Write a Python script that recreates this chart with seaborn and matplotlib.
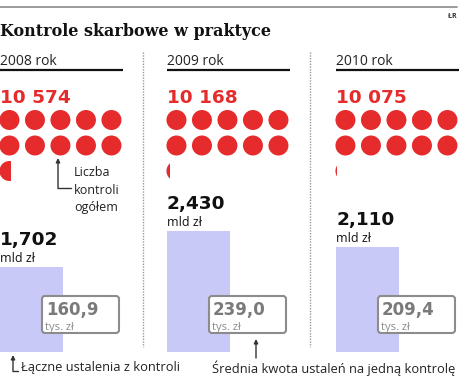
import matplotlib
matplotlib.use("Agg")
import matplotlib.pyplot as plt
import seaborn as sns
import pandas as pd
import numpy as np
from matplotlib.patches import Circle, Rectangle, FancyBboxPatch

# ---- data ----
years = ["2008 rok", "2009 rok", "2010 rok"]
controls = [10574, 10168, 10075]      # liczba kontroli ogółem
total_mld = [1.702, 2.430, 2.110]     # łączne ustalenia z kontroli, mld zł
avg_tys = [160.9, 239.0, 209.4]       # średnia kwota ustaleń na jedną kontrolę, tys. zł
title = "Kontrole skarbowe w praktyce"
unit_total = "mld zł"
unit_avg = "tys. zł"
label_count = ["Liczba", "kontroli", "ogółem"]
label_total = "Łączne ustalenia z kontroli"
label_avg = "Średnia kwota ustaleń na jedną kontrolę"
source = "ŁR"
per_dot = 1000

RED = "#e52b2b"
LAV = "#c9c9f8"
GRAY = "#808080"

W, H = 468, 388
sns.set_style("white")
plt.rcParams["font.family"] = ["Open Sans", "DejaVu Sans"]
NUM = ["DejaVu Sans"]
SERIF = ["DejaVu Serif"]

fig = plt.figure(figsize=(W / 100, H / 100), dpi=100)
bg = fig.add_axes([0, 0, 1, 1])
bg.set_xlim(0, W); bg.set_ylim(H, 0); bg.axis("off")


def rect(x, ytop, w, h):
    return [x / W, 1 - (ytop + h) / H, w / W, h / H]


def fmt_int(v):
    return f"{v:,}".replace(",", " ")


def fmt_dec(v, d):
    return f"{v:.{d}f}".replace(".", ",")


# header
bg.plot([0, 457], [7, 7], color="#8a8a8a", lw=1.2)
bg.text(457, 16, source, ha="right", va="center", fontsize=5, color="#333333", fontweight="bold")
bg.text(0, 36, title, family=SERIF, fontweight="bold", fontsize=11.5, va="baseline", ha="left",
        color="#111111")

panel_x = [0, 167, 336]
panel_w = 123
for sx in [142.5, 310]:
    bg.plot([sx, sx], [52, 347], color="#9a9a9a", lw=1, ls=(0, (1, 1)))

PX_PER_MLD = 50
BASE = 352
YMAX = 2.8

for i, x0 in enumerate(panel_x):
    bg.text(x0, 65, years[i], fontsize=10, va="baseline", color="#222222")
    bg.plot([x0, x0 + panel_w], [70, 70], color="#111111", lw=1.6, solid_capstyle="butt")
    bg.text(x0, 103, fmt_int(controls[i]), family=NUM, fontweight="bold", fontsize=13.3,
            color=RED, va="baseline")

    # dots: one dot = 1000 controls
    dax = fig.add_axes(rect(x0 - 3.3, 107.25, 127.5, 76.5))
    n_full = controls[i] // per_dot
    frac = controls[i] / per_dot - n_full
    idx = np.arange(n_full)
    dots = pd.DataFrame({"col": idx % 5, "row": idx // 5})
    sns.scatterplot(data=dots, x="col", y="row", s=(20 * 0.72) ** 2, color=RED,
                    edgecolor="none", linewidth=0, ax=dax, legend=False, clip_on=False)
    dax.set_xlim(-0.5, 4.5); dax.set_ylim(2.5, -0.5); dax.axis("off")
    r = 10 / 25.5
    pc, pr = n_full % 5, n_full // 5
    circ = Circle((pc, pr), r, color=RED, lw=0)
    dax.add_patch(circ)
    clip = Rectangle((pc - r, pr - r), 2 * r * frac, 2 * r, transform=dax.transData)
    circ.set_clip_path(clip)

    # bar: total findings
    bax = fig.add_axes(rect(x0, BASE - YMAX * PX_PER_MLD, 63, YMAX * PX_PER_MLD))
    df = pd.DataFrame({"year": [years[i]], "total": [total_mld[i]]})
    sns.barplot(data=df, x="year", y="total", color=LAV, width=1.0, linewidth=0,
                saturation=1, ax=bax)
    bax.set_xlim(-0.5, 0.5); bax.set_ylim(0, YMAX); bax.axis("off")
    bax.annotate(unit_total, xy=(-0.5, total_mld[i]), xytext=(0, 5), textcoords="offset pixels",
                 fontsize=9, va="baseline", ha="left", color="#111111", annotation_clip=False)
    bax.annotate(fmt_dec(total_mld[i], 3), xy=(-0.5, total_mld[i]), xytext=(0, 22),
                 textcoords="offset pixels", family=NUM, fontweight="bold", fontsize=13.3,
                 va="baseline", ha="left", color="#111111", annotation_clip=False)

# overlay
fg = fig.add_axes([0, 0, 1, 1])
fg.set_xlim(0, W); fg.set_ylim(H, 0); fg.axis("off")
fg.patch.set_visible(False)

for i, x0 in enumerate(panel_x):
    bx = x0 + 42
    box = FancyBboxPatch((bx, 296), 77, 37, boxstyle="round,pad=0,rounding_size=3",
                         fc="white", ec="#8c8c8c", lw=1.5)
    fg.add_patch(box)
    fg.text(bx + 4, 315.5, fmt_dec(avg_tys[i], 1), family=NUM, fontweight="bold", fontsize=12,
            color="#7a7a7a", va="baseline")
    fg.text(bx + 3, 330, unit_avg, fontsize=8, color="#8a8a8a", va="baseline")

ap = dict(arrowstyle="-|>", color="#333333", lw=1, mutation_scale=6, shrinkA=0, shrinkB=0)
fg.annotate("", xy=(58, 158), xytext=(58, 188.5), arrowprops=ap)
fg.plot([58, 71], [188, 188], color="#333333", lw=1)
for k, t in enumerate(label_count):
    fg.text(74, 173 + 17 * k, t, fontsize=9, va="center", color="#222222")

fg.annotate("", xy=(13, 355), xytext=(13, 371.5), arrowprops=ap)
fg.plot([13, 18], [371, 371], color="#333333", lw=1)
fg.text(21, 368, label_total, fontsize=9.3, va="center", color="#222222")
fg.annotate("", xy=(256, 339), xytext=(256, 358), arrowprops=ap)
fg.text(212, 368, label_avg, fontsize=9.3, va="center", color="#222222")

fig.savefig("out.png", dpi=100)
